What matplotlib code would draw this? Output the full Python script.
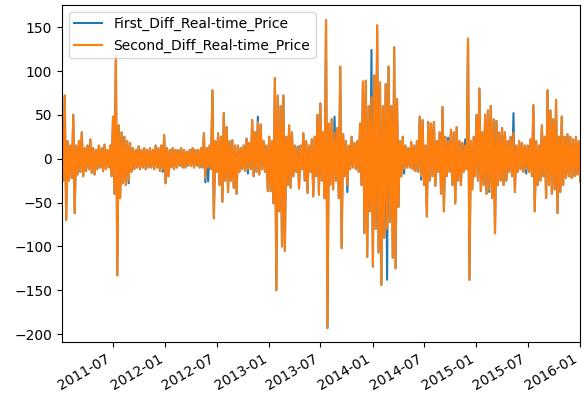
import numpy as np
import pandas as pd
import matplotlib

matplotlib.use('Agg')
import matplotlib.pyplot as plt
import matplotlib.dates as mdates

# --- Data: upper / lower envelope of the differenced series, one pair per 10 days ---
start_date = '2011-01-03'

second_hi = [25, 72, 20, 15, 50, 15, 20, 30, 12, 15,
             22, 12, 10, 15, 12, 16, 10, 15, 48, 118,
             38, 30, 25, 20, 18, 12, 10, 14, 10, 12,
             10, 12, 10, 15, 12, 15, 27, 12, 10, 12,
             10, 10, 12, 10, 8, 10, 12, 10, 10, 12,
             29, 12, 15, 78, 20, 29, 25, 52, 36, 20,
             21, 15, 15, 12, 15, 23, 18, 44, 30, 42,
             39, 20, 15, 25, 20, 92, 72, 60, 72, 25,
             38, 30, 15, 12, 15, 29, 20, 15, 22, 25,
             50, 63, 30, 158, 40, 45, 30, 35, 105, 28,
             20, 15, 25, 18, 20, 40, 88, 89, 60, 70,
             95, 152, 87, 60, 85, 105, 60, 127, 68, 20,
             25, 15, 12, 19, 15, 20, 48, 44, 15, 42,
             40, 42, 20, 30, 59, 25, 20, 33, 30, 36,
             20, 18, 15, 137, 20, 25, 50, 80, 30, 50,
             55, 60, 45, 43, 30, 35, 30, 20, 25, 30,
             15, 20, 18, 15, 15, 22, 61, 20, 15, 38,
             25, 78, 55, 45, 67, 25, 48, 25, 28, 25,
             22, 25, 20]

second_lo = [-25, -70, -25, -22, -62, -18, -15, -20, -14, -12,
             -16, -18, -12, -10, -14, -12, -10, -20, -40, -133,
             -45, -28, -30, -25, -15, -12, -10, -12, -10, -12,
             -10, -10, -12, -10, -14, -12, -28, -20, -10, -12,
             -10, -8, -10, -10, -8, -8, -10, -8, -10, -10,
             -22, -10, -12, -68, -15, -30, -49, -25, -38, -25,
             -33, -40, -15, -12, -14, -12, -12, -20, -15, -18,
             -12, -15, -37, -37, -51, -150, -60, -100, -105, -30,
             -33, -20, -15, -34, -12, -25, -39, -15, -43, -20,
             -41, -25, -45, -193, -30, -35, -25, -45, -102, -20,
             -30, -12, -10, -12, -15, -30, -85, -112, -60, -123,
             -80, -107, -144, -90, -80, -72, -113, -125, -55, -20,
             -12, -10, -10, -12, -14, -15, -20, -30, -66, -25,
             -20, -31, -15, -40, -60, -20, -15, -30, -51, -25,
             -30, -15, -12, -138, -35, -20, -25, -37, -30, -40,
             -35, -45, -85, -30, -25, -30, -25, -15, -20, -38,
             -15, -12, -15, -12, -15, -20, -60, -30, -25, -20,
             -45, -30, -40, -35, -62, -38, -30, -22, -20, -22,
             -20, -18, -26]

# first difference: same envelope except where it pokes out beyond the second
first_hi_peaks = {69: 48, 96: 48, 109: 124, 136: 24, 142: 22, 159: 52, 83: 14}
first_lo_peaks = {23: -28, 35: -15, 50: -27, 51: -26, 65: -17, 100: -38,
                  114: -138, 120: -17, 126: -24, 150: -38, 163: -17}

first_hi = list(second_hi)
first_lo = list(second_lo)
for k, v in first_hi_peaks.items():
    first_hi[k] = v
for k, v in first_lo_peaks.items():
    first_lo[k] = v


def interleave(hi, lo):
    out = []
    for a, b in zip(hi, lo):
        out += [a, b]
    return out


dates = pd.date_range(start_date, periods=2 * len(second_hi), freq='5D')
first_diff = interleave(first_hi, first_lo)
second_diff = interleave(second_hi, second_lo)

# --- Plot ---
fig = plt.figure(figsize=(5.84, 4.0), dpi=100)
ax = fig.add_axes([0.106, 0.145, 0.888, 0.843])

ax.plot(dates, first_diff, label='First_Diff_Real-time_Price')
ax.plot(dates, second_diff, label='Second_Diff_Real-time_Price')

ax.set_xlim(pd.Timestamp('2011-01-03'), pd.Timestamp('2016-01-03'))
ax.set_ylim(-209, 175.5)
ax.xaxis.set_major_locator(mdates.MonthLocator(bymonth=[1, 7]))
ax.xaxis.set_major_formatter(mdates.DateFormatter('%Y-%m'))
for lbl in ax.get_xticklabels():
    lbl.set_rotation(30)
    lbl.set_ha('right')

ax.legend(loc='upper left')

fig.savefig('out.png', dpi=100)
